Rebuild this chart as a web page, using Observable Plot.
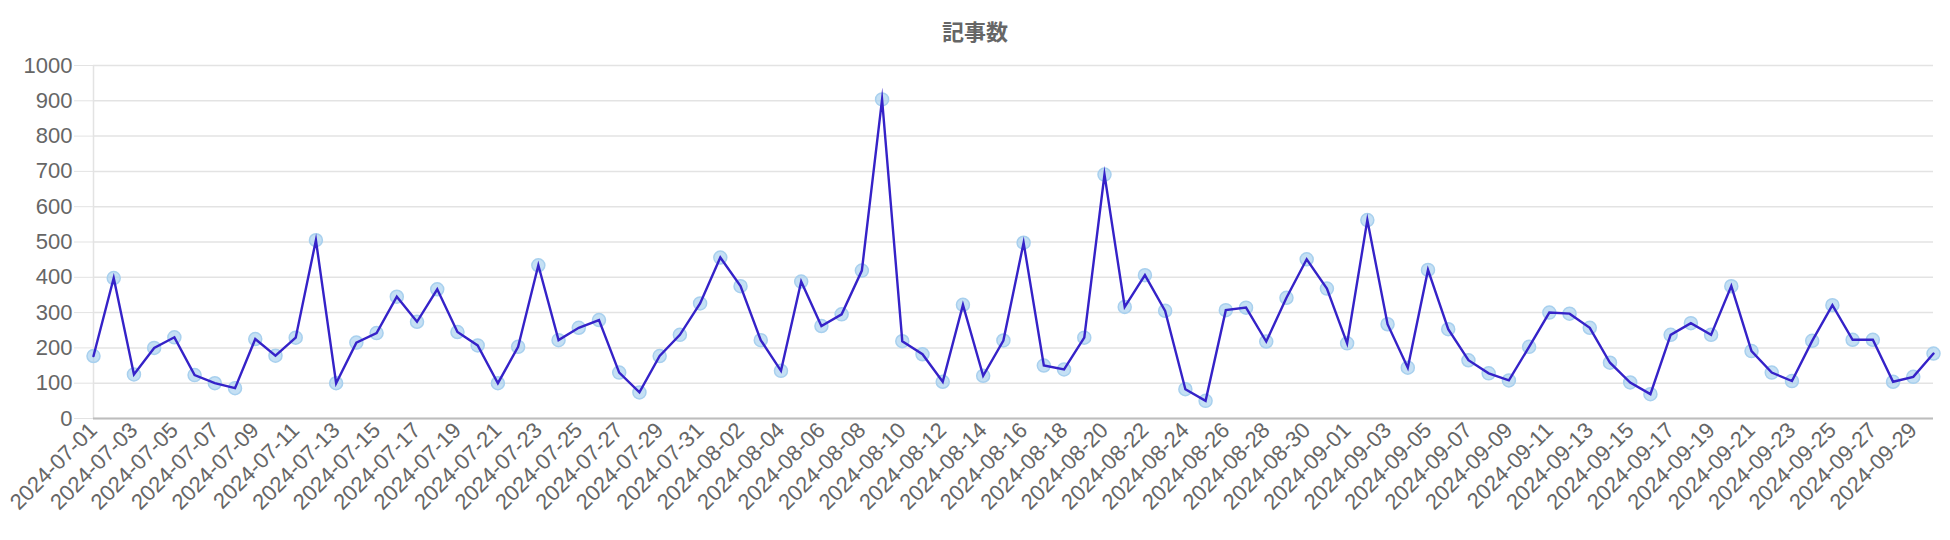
<!DOCTYPE html>
<html>
<head>
<meta charset="utf-8">
<script src="https://cdn.jsdelivr.net/npm/d3@7"></script>
<script src="https://cdn.jsdelivr.net/npm/@observablehq/plot@0.6"></script>
<style>
  html, body { margin: 0; padding: 0; background: #fff; }
  #title { height: 50px; line-height: 60px; text-align: center; font-family: "Noto Sans CJK JP", sans-serif; font-size: 22px; font-weight: bold; color: #666; }
</style>
</head>
<body>
<div id="title">記事数</div>
<div id="chart"></div>
<script>
const startDate = "2024-07-01";
const endDate = "2024-09-30";
const counts = [
  177, 398, 125, 200, 230, 123, 100, 86, 225, 178, 229, 505, 100, 215, 242, 345,
  274, 366, 245, 207, 100, 203, 434, 222, 257, 279, 130, 74, 177, 237, 326,
  456, 375, 222, 135, 388, 262, 295, 419, 904, 219, 182, 104, 322, 121, 221, 498,
  150, 139, 229, 691, 316, 406, 305, 83, 50, 307, 314, 218, 342, 451, 368,
  213, 562, 267, 144, 421, 253, 165, 128, 108, 203, 300, 297, 257, 158, 102,
  69, 237, 270, 237, 375, 191, 130, 106, 220, 321, 223, 223, 104, 118, 184
];
const yTicks = [0, 100, 200, 300, 400, 500, 600, 700, 800, 900, 1000];

const fmt = d3.utcFormat("%Y-%m-%d");
const start = new Date(startDate);
const end = new Date(endDate);
const dates = d3.utcDay.range(start, d3.utcDay.offset(end, 1));
const data = dates.map((d, i) => ({date: d, value: counts[i]}));
const xTicks = dates.filter((d, i) => i % 2 === 0);

const chart = Plot.plot({
  width: 1950,
  height: 490,
  marginTop: 15,
  marginBottom: 122,
  marginLeft: 93,
  marginRight: 17,
  style: {fontFamily: "'Liberation Sans', Arial, sans-serif", fontSize: "22px", color: "#666", background: "#fff"},
  x: {type: "utc", domain: [start, end]},
  y: {domain: [0, 1000]},
  marks: [
    Plot.axisY({ticks: yTicks, tickSize: 19, tickPadding: 2, stroke: "#e3e3e3", fill: "#666", label: null, fontSize: 22, tickFormat: d => String(d)}),
    Plot.gridY({ticks: yTicks, stroke: "#e3e3e3", strokeOpacity: 1, strokeWidth: 1.5}),
    Plot.ruleX([start], {y1: 0, y2: 1000, stroke: "#e3e3e3", strokeWidth: 1.5}),
    Plot.ruleY([0], {stroke: "#bdbdbd", strokeWidth: 2, x1: start, x2: end}),
    Plot.axisX({ticks: xTicks, tickSize: 0, tickPadding: 8, tickRotate: -45, label: null, fill: "#666", fontSize: 22, tickFormat: fmt}),
    Plot.dot(data, {x: "date", y: "value", r: 6.5, fill: "#9fcbec", fillOpacity: 0.6, stroke: "#a8d0ee", strokeWidth: 1.5}),
    Plot.line(data, {x: "date", y: "value", stroke: "#3522c8", strokeWidth: 2.4, strokeLinejoin: "miter", strokeMiterlimit: 12})
  ]
});
document.getElementById("chart").appendChild(chart);
</script>
</body>
</html>
